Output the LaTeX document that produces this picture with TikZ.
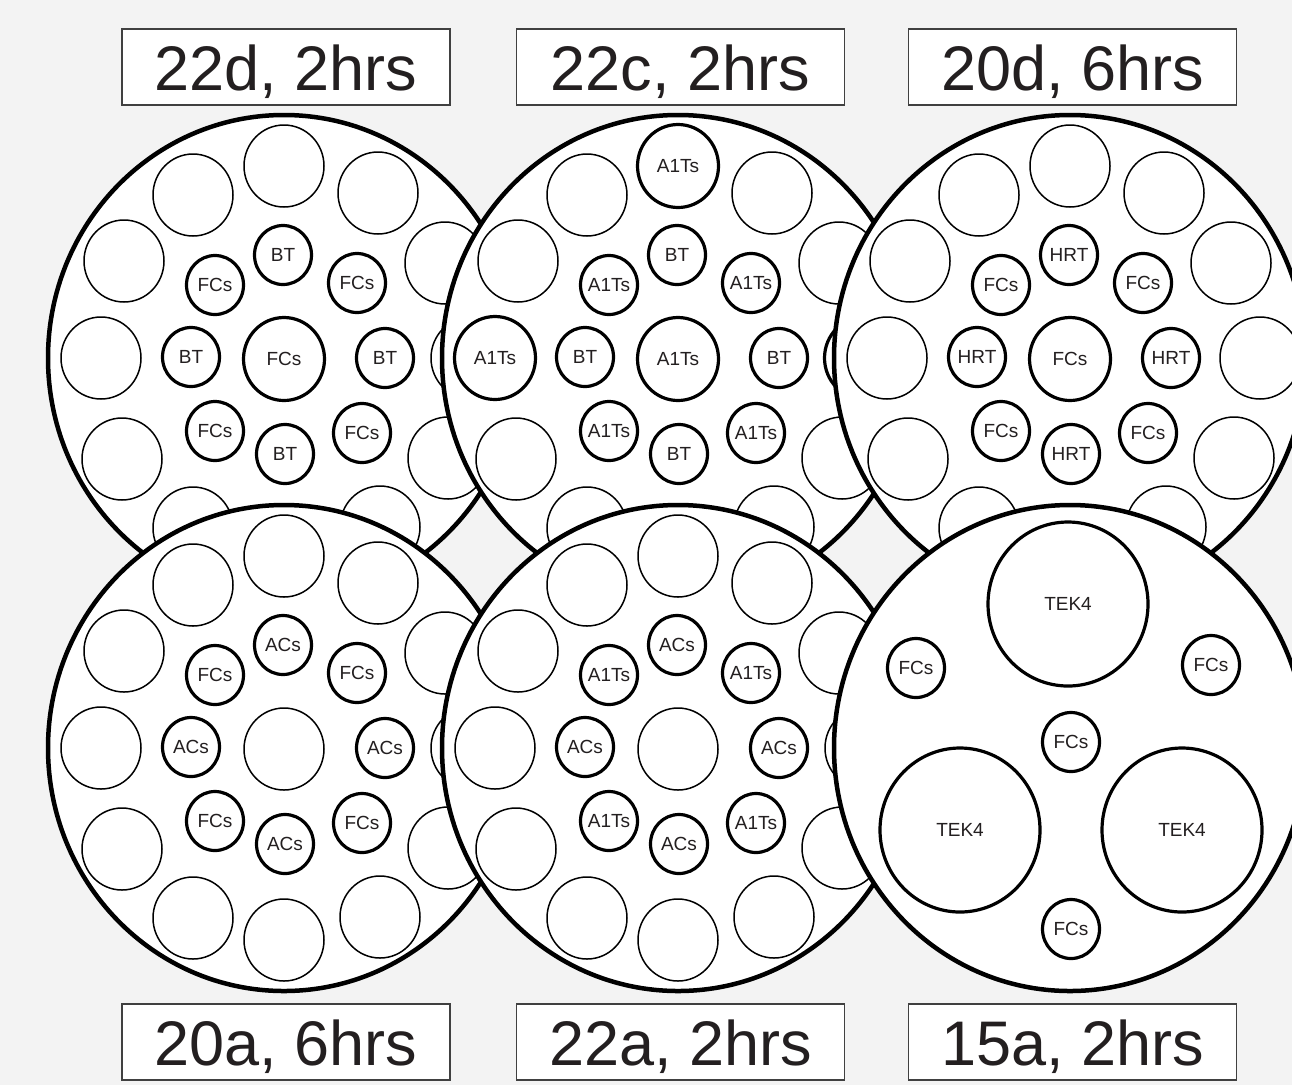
\documentclass[tikz,border=0pt]{standalone}
\usepackage{fontspec}
\setmainfont{Liberation Sans}
\usetikzlibrary{shapes.geometric}
\definecolor{bg}{HTML}{F3F3F3}
\definecolor{ink}{HTML}{231F20}
\newcommand\slotfont{\fontsize{19}{19}\selectfont}
\tikzset{
  plate/.style={ellipse, draw=black, line width=4.5pt, fill=white,
    minimum width=472pt, minimum height=486pt, inner sep=0pt},
  emptyslot/.style={ellipse, draw=black, line width=1.5pt, fill=white,
    minimum width=80pt, minimum height=82pt, inner sep=0pt},
  bigslot/.style={ellipse, draw=black, line width=3.2pt, fill=white,
    minimum width=81pt, minimum height=83pt, inner sep=0pt, font=\slotfont,
    text=ink, text height=13.7pt, text depth=0pt},
  smallslot/.style={ellipse, draw=black, line width=3.2pt, fill=white,
    minimum width=57pt, minimum height=59pt, inner sep=0pt, font=\slotfont,
    text=ink, text height=13.7pt, text depth=0pt},
  tekslot/.style={ellipse, draw=black, line width=3.2pt, fill=white,
    minimum width=160pt, minimum height=164pt, inner sep=0pt, font=\slotfont,
    text=ink, text height=13.7pt, text depth=0pt},
  tag/.style={draw=black!75, line width=1.3pt, fill=white,
    minimum width=328pt, minimum height=76pt, inner sep=0pt,
    font=\fontsize{63}{63}\selectfont, text=ink, text height=46pt, text depth=0pt}
}
\begin{document}
\begin{tikzpicture}[x=1pt,y=-1pt]
\useasboundingbox (0,0) rectangle (1292,1085);
\fill[bg] (0,0) rectangle (1292,1085);
\clip (0,0) rectangle (1292,1085);

% ---------- Plate 1: 22d, 2hrs ----------
\begin{scope}[shift={(284,358)}]
  \node[plate] (P1) at (0,0) {};
  \foreach \n/\x/\y in {o1/0/-192, o2/94/-165, o3/161/-95, o4/187/0, o5/164/100,
      o6/96/169, o7/0/192, o8/-91/170, o9/-162/101, o10/-183/0, o11/-160/-97, o12/-91/-163}
    \node[emptyslot] (P1\n) at (\x,\y) {};
  \foreach \n/\x/\y/\lab in {i1/-1/-103/BT, i2/73/-75/FCs, i3/101/0/BT, i4/78/75/FCs,
      i5/1/96/BT, i6/-69/73/FCs, i7/-93/-1/BT, i8/-69/-73/FCs}
    \node[smallslot] (P1\n) at (\x,\y) {\makebox[0pt]{\lab}};
  \node[bigslot] (P1c) at (0,1) {\makebox[0pt]{FCs}};
\end{scope}

% ---------- Plate 2: 22c, 2hrs ----------
\begin{scope}[shift={(678,358)}]
  \node[plate] (P2) at (0,0) {};
  \foreach \n/\x/\y in {o2/94/-165, o3/161/-95, o5/164/100,
      o6/96/169, o8/-91/170, o9/-162/101, o11/-160/-97, o12/-91/-163}
    \node[emptyslot] (P2\n) at (\x,\y) {};
  \foreach \n/\x/\y in {o1/0/-192, o4/187/0, o7/0/192, o10/-183/0}
    \node[bigslot] (P2\n) at (\x,\y) {\makebox[0pt]{A1Ts}};
  \foreach \n/\x/\y/\lab in {i1/-1/-103/BT, i2/73/-75/A1Ts, i3/101/0/BT, i4/78/75/A1Ts,
      i5/1/96/BT, i6/-69/73/A1Ts, i7/-93/-1/BT, i8/-69/-73/A1Ts}
    \node[smallslot] (P2\n) at (\x,\y) {\makebox[0pt]{\lab}};
  \node[bigslot] (P2c) at (0,1) {\makebox[0pt]{A1Ts}};
\end{scope}

% ---------- Plate 3: 20d, 6hrs ----------
\begin{scope}[shift={(1070,358)}]
  \node[plate] (P3) at (0,0) {};
  \foreach \n/\x/\y in {o1/0/-192, o2/94/-165, o3/161/-95, o4/190/0, o5/164/100,
      o6/96/169, o7/0/192, o8/-91/170, o9/-162/101, o10/-183/0, o11/-160/-97, o12/-91/-163}
    \node[emptyslot] (P3\n) at (\x,\y) {};
  \foreach \n/\x/\y/\lab in {i1/-1/-103/HRT, i2/73/-75/FCs, i3/101/0/HRT, i4/78/75/FCs,
      i5/1/96/HRT, i6/-69/73/FCs, i7/-93/-1/HRT, i8/-69/-73/FCs}
    \node[smallslot] (P3\n) at (\x,\y) {\makebox[0pt]{\lab}};
  \node[bigslot] (P3c) at (0,1) {\makebox[0pt]{FCs}};
\end{scope}

% ---------- Plate 4: 20a, 6hrs ----------
\begin{scope}[shift={(284,748)}]
  \node[plate] (P4) at (0,0) {};
  \foreach \n/\x/\y in {o1/0/-192, o2/94/-165, o3/161/-95, o4/187/0, o5/164/100,
      o6/96/169, o7/0/192, o8/-91/170, o9/-162/101, o10/-183/0, o11/-160/-97, o12/-91/-163}
    \node[emptyslot] (P4\n) at (\x,\y) {};
  \foreach \n/\x/\y/\lab in {i1/-1/-103/ACs, i2/73/-75/FCs, i3/101/0/ACs, i4/78/75/FCs,
      i5/1/96/ACs, i6/-69/73/FCs, i7/-93/-1/ACs, i8/-69/-73/FCs}
    \node[smallslot] (P4\n) at (\x,\y) {\makebox[0pt]{\lab}};
  \node[emptyslot] (P4c) at (0,1) {};
\end{scope}

% ---------- Plate 5: 22a, 2hrs ----------
\begin{scope}[shift={(678,748)}]
  \node[plate] (P5) at (0,0) {};
  \foreach \n/\x/\y in {o1/0/-192, o2/94/-165, o3/161/-95, o4/187/0, o5/164/100,
      o6/96/169, o7/0/192, o8/-91/170, o9/-162/101, o10/-183/0, o11/-160/-97, o12/-91/-163}
    \node[emptyslot] (P5\n) at (\x,\y) {};
  \foreach \n/\x/\y/\lab in {i1/-1/-103/ACs, i2/73/-75/A1Ts, i3/101/0/ACs, i4/78/75/A1Ts,
      i5/1/96/ACs, i6/-69/73/A1Ts, i7/-93/-1/ACs, i8/-69/-73/A1Ts}
    \node[smallslot] (P5\n) at (\x,\y) {\makebox[0pt]{\lab}};
  \node[emptyslot] (P5c) at (0,1) {};
\end{scope}

% ---------- Plate 6: 15a, 2hrs ----------
\begin{scope}[shift={(1070,748)}]
  \node[plate] (P6) at (0,0) {};
  \node[tekslot] (P6t1) at (-2,-144) {\makebox[0pt]{TEK4}};
  \node[tekslot] (P6t2) at (-110,82) {\makebox[0pt]{TEK4}};
  \node[tekslot] (P6t3) at (112,82) {\makebox[0pt]{TEK4}};
  \node[smallslot] (P6f1) at (-154,-80) {\makebox[0pt]{FCs}};
  \node[smallslot] (P6f2) at (141,-83) {\makebox[0pt]{FCs}};
  \node[smallslot] (P6f3) at (1,-6) {\makebox[0pt]{FCs}};
  \node[smallslot] (P6f4) at (1,181) {\makebox[0pt]{FCs}};
\end{scope}

% ---------- Labels ----------
\node[tag] (T1) at (286,67) {22d, 2hrs};
\node[tag] (T2) at (680.5,67) {22c, 2hrs};
\node[tag] (T3) at (1072.5,67) {20d, 6hrs};
\node[tag] (T4) at (286,1042) {20a, 6hrs};
\node[tag] (T5) at (680.5,1042) {22a, 2hrs};
\node[tag] (T6) at (1072.5,1042) {15a, 2hrs};
\end{tikzpicture}
\end{document}
